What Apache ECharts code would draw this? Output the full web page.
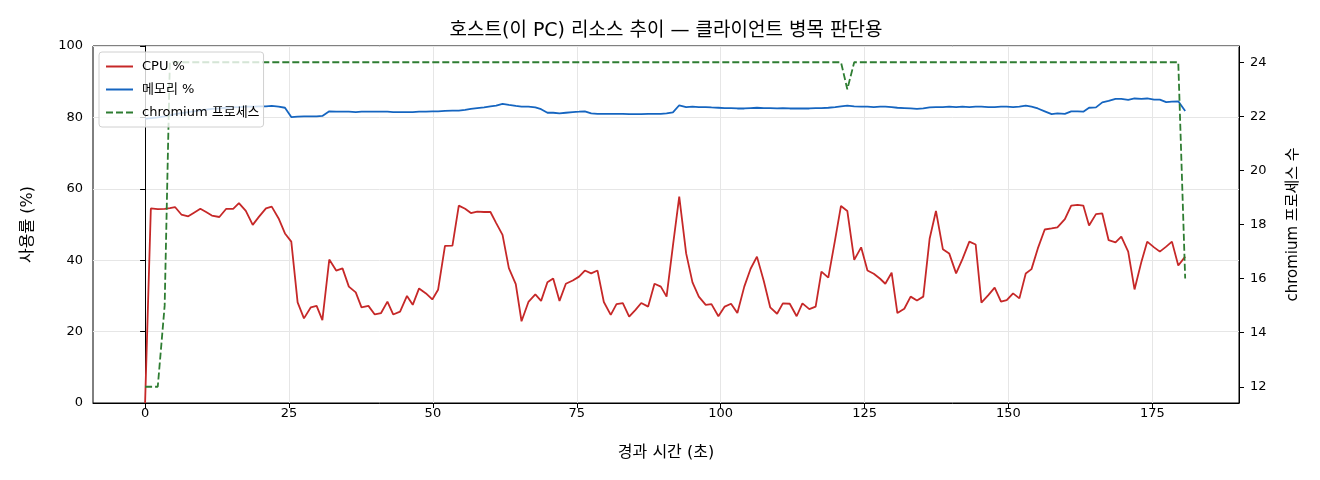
<!DOCTYPE html>
<html><head><meta charset="utf-8">
<script src="https://cdn.jsdelivr.net/npm/echarts@6/dist/echarts.min.js"></script>
<style>html,body{margin:0;padding:0;background:#fff}#c{width:1320px;height:480px}</style>
</head><body><div id="c"></div>
<script>
// elapsed seconds of each sample
const t = [0,1.0,2.2,3.4,4.3,5.2,6.3,7.5,8.5,9.6,
10.6,11.6,12.9,14.1,15.3,16.3,17.5,18.7,19.8,21.0,
22.0,23.2,24.3,25.4,26.5,27.6,28.8,29.8,30.8,32.0,
33.2,34.3,35.4,36.6,37.6,38.8,39.9,41.0,42.1,43.1,
44.3,45.5,46.5,47.6,48.8,49.9,50.9,52.1,53.4,54.5,
55.6,56.6,57.7,58.9,60.0,61.0,62.1,63.2,64.4,65.4,
66.6,67.8,68.8,69.9,70.9,72.0,73.1,74.3,75.4,76.4,
77.5,78.6,79.7,80.9,81.9,83.0,84.1,85.2,86.2,87.4,
88.5,89.6,90.6,91.7,92.8,94.0,95.1,96.2,97.4,98.4,
99.6,100.7,101.8,102.9,104.1,105.2,106.3,107.5,108.6,109.8,
110.8,112.0,113.2,114.2,115.4,116.5,117.5,118.7,119.9,120.9,
122.0,123.2,124.4,125.5,126.6,127.7,128.6,129.7,130.7,131.9,
133.0,134.1,135.2,136.3,137.4,138.6,139.7,140.9,142.0,143.2,
144.3,145.3,146.5,147.6,148.7,149.7,150.8,151.9,153.0,154.0,
155.1,156.3,157.5,158.5,159.8,160.9,162.0,163.0,164.0,165.2,
166.3,167.4,168.6,169.6,170.8,171.9,173.1,174.1,175.3,176.3,
177.4,178.4,179.5,180.7];
const cpu = [0,54.5,54.3,54.4,54.6,54.9,52.8,52.3,53.3,54.4,
53.5,52.5,52.1,54.4,54.4,56.0,53.8,49.9,52.2,54.5,
55.0,51.7,47.5,45.2,28.2,23.7,26.8,27.2,23.2,40.2,
37.1,37.7,32.6,31.0,26.8,27.2,24.8,25.2,28.4,24.8,
25.6,30.0,27.5,32.1,30.7,29.0,31.7,44.0,44.1,55.3,
54.4,53.2,53.6,53.5,53.5,50.4,47.1,37.8,33.3,22.9,
28.3,30.4,28.6,33.8,34.9,28.6,33.4,34.3,35.4,37.1,
36.3,37.1,28.3,24.7,27.7,28.0,24.2,26.1,28.0,27.0,
33.4,32.6,29.8,44.0,57.8,41.9,33.8,29.8,27.5,27.7,
24.3,27.0,27.8,25.2,32.6,37.6,41.0,34.1,26.8,25.0,
27.9,27.8,24.3,27.9,26.3,27.0,36.8,35.1,45.9,55.2,
53.8,40.1,43.6,37.1,36.2,34.8,33.4,36.5,25.2,26.4,
29.8,28.7,29.8,46.0,53.8,43.1,41.9,36.3,40.3,45.2,
44.4,28.1,30.2,32.3,28.4,28.8,30.7,29.3,36.3,37.5,
43.3,48.6,48.9,49.2,51.5,55.3,55.5,55.3,49.7,52.9,
53.1,45.6,45.0,46.6,42.4,31.8,39.6,45.2,43.6,42.4,
43.8,45.2,38.5,41.0];
const mem = [79.6,79.8,80.0,80.3,80.6,80.9,81.2,81.5,81.7,82.0,
82.2,82.4,82.5,82.7,82.8,82.9,83.0,83.0,83.1,83.1,
83.2,83.0,82.7,80.1,80.2,80.3,80.3,80.3,80.4,81.7,
81.6,81.6,81.6,81.5,81.6,81.6,81.6,81.6,81.6,81.5,
81.5,81.5,81.5,81.6,81.6,81.7,81.7,81.8,81.9,81.9,
82.1,82.4,82.6,82.8,83.1,83.3,83.8,83.5,83.2,83.0,
83.0,82.8,82.3,81.3,81.3,81.1,81.3,81.5,81.6,81.7,
81.1,81.0,81.0,81.0,81.0,81.0,80.9,80.9,80.9,81.0,
81.0,81.0,81.1,81.4,83.4,82.9,83.0,82.9,82.9,82.8,
82.7,82.6,82.6,82.5,82.5,82.6,82.7,82.6,82.6,82.5,
82.6,82.5,82.5,82.5,82.5,82.6,82.6,82.7,82.9,83.1,
83.3,83.1,83.0,83.0,82.9,83.0,83.0,82.9,82.7,82.6,
82.5,82.4,82.5,82.8,82.9,82.9,83.0,82.9,83.0,82.9,
83.0,83.0,82.9,82.9,83.0,83.0,82.9,83.0,83.3,83.0,
82.5,81.7,80.9,81.1,81.0,81.7,81.7,81.6,82.7,82.8,
84.2,84.6,85.2,85.2,84.9,85.3,85.2,85.3,85.0,85.0,
84.3,84.4,84.5,81.8];
const chromium = [12,12,12,15,
24,24,24,24,24,24,24,24,24,24,
24,24,24,24,24,24,24,24,24,24,
24,24,24,24,24,24,24,24,24,24,
24,24,24,24,24,24,24,24,24,24,
24,24,24,24,24,24,24,24,24,24,
24,24,24,24,24,24,24,24,24,24,
24,24,24,24,24,24,24,24,24,24,
24,24,24,24,24,24,24,24,24,24,
24,24,24,24,24,24,24,24,24,24,
24,24,24,24,24,24,24,24,24,24,
24,24,24,24,24,24,
23,
24,24,24,24,24,24,24,24,24,24,
24,24,24,24,24,24,24,24,24,24,
24,24,24,24,24,24,24,24,24,24,
24,24,24,24,24,24,24,24,24,24,
24,24,24,24,24,24,24,24,24,24,
24,24,
16];
const xTicks = [0,25,50,75,100,125,150,175];
const y2Ticks = [12,14,16,18,20,22,24];
const seriesNames = ['CPU %','메모리 %','chromium 프로세스'];

const zip = (a) => t.map((x, i) => [x, a[i]]);
const font = '"DejaVu Sans", "Noto Sans CJK KR", sans-serif';
const black = '#000';
const chart = echarts.init(document.getElementById('c'));
chart.setOption({
  animation: false,
  textStyle: { fontFamily: font },
  title: {
    text: '호스트(이 PC) 리소스 추이 — 클라이언트 병목 판단용',
    left: 666, top: 22, padding: 0, textAlign: 'center',
    textStyle: { fontSize: 19, fontWeight: 'normal', color: black, fontFamily: font }
  },
  grid: { left: 93, right: 81, top: 46, bottom: 77, show: true, borderColor: black, borderWidth: 1, backgroundColor: 'transparent' },
  legend: {
    orient: 'vertical', left: 99, top: 52,
    padding: [8, 4, 8, 6], itemGap: 10, itemWidth: 27, itemHeight: 13,
    backgroundColor: 'rgba(255,255,255,0.8)', borderColor: '#d0d0d0', borderWidth: 1, borderRadius: 3,
    itemStyle: { opacity: 0 },
    textStyle: { fontSize: 13, color: black, fontFamily: font, padding: [0, 0, 0, 4] },
    data: seriesNames
  },
  xAxis: {
    type: 'value', min: -9.05, max: 190.05,
    name: '경과 시간 (초)', nameLocation: 'middle', nameGap: 42,
    nameTextStyle: { fontSize: 16, color: black, fontFamily: font },
    axisLine: { show: true, onZero: false, lineStyle: { color: black, width: 1 } },
    axisTick: { show: true, length: 5, customValues: xTicks, lineStyle: { color: black } },
    axisLabel: { customValues: xTicks, fontSize: 13, color: black, margin: 4, fontFamily: font },
    splitLine: { show: true, lineStyle: { color: '#e6e6e6', width: 1 } }
  },
  yAxis: [{
    type: 'value', min: 0, max: 100, interval: 20,
    name: '사용률 (%)', nameLocation: 'middle', nameGap: 57, nameRotate: 90,
    nameTextStyle: { fontSize: 16, color: black, fontFamily: font },
    axisLine: { show: true, lineStyle: { color: black, width: 1 } },
    axisTick: { show: true, length: 5, lineStyle: { color: black } },
    axisLabel: { fontSize: 13, color: black, margin: 10, fontFamily: font },
    splitLine: { show: true, lineStyle: { color: '#e6e6e6', width: 1 } }
  }, {
    type: 'value', min: 11.4, max: 24.6, position: 'right',
    name: 'chromium 프로세스 수', nameLocation: 'middle', nameGap: 47, nameRotate: 90,
    nameTextStyle: { fontSize: 15, color: black, fontFamily: font },
    axisLine: { show: true, lineStyle: { color: black, width: 1 } },
    axisTick: { show: true, length: 5, customValues: y2Ticks, lineStyle: { color: black } },
    axisLabel: { customValues: y2Ticks, fontSize: 13, color: black, margin: 11, fontFamily: font },
    splitLine: { show: false }
  }],
  series: [{
    name: seriesNames[0], type: 'line', data: zip(cpu), yAxisIndex: 0,
    symbol: 'none', lineStyle: { color: '#c62828', width: 1.8 }, itemStyle: { color: '#c62828' }, z: 3
  }, {
    name: seriesNames[1], type: 'line', data: zip(mem), yAxisIndex: 0,
    symbol: 'none', lineStyle: { color: '#1565c0', width: 1.8 }, itemStyle: { color: '#1565c0' }, z: 3
  }, {
    name: seriesNames[2], type: 'line', data: zip(chromium), yAxisIndex: 1,
    symbol: 'none', lineStyle: { color: '#2e7d32', width: 1.8, type: [7, 3] }, itemStyle: { color: '#2e7d32' }, z: 3
  }]
});
</script>
</body></html>
